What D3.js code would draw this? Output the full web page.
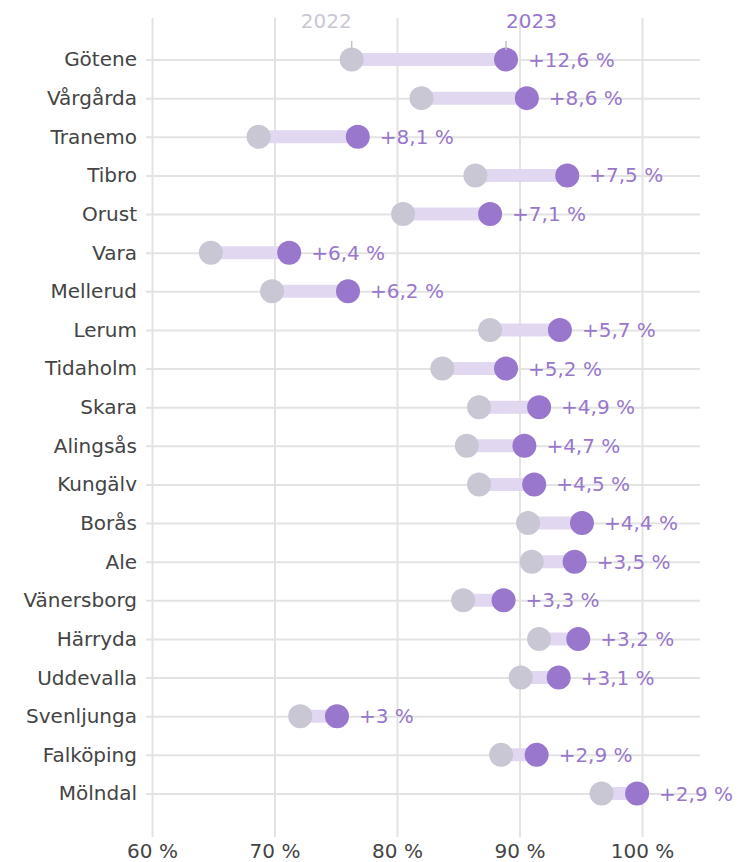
<!DOCTYPE html>
<html>
<head>
<meta charset="utf-8">
<script src="https://cdn.jsdelivr.net/npm/d3@7"></script>
<style>
	body { margin: 0; background: #fff; }
	svg text { font-family: "DejaVu Sans", sans-serif; }
</style>
</head>
<body>
<div id="chart"></div>
<script>
var municipalities = ["Götene", "Vårgårda", "Tranemo", "Tibro", "Orust", "Vara", "Mellerud", "Lerum", "Tidaholm", "Skara",
	"Alingsås", "Kungälv", "Borås", "Ale", "Vänersborg", "Härryda", "Uddevalla", "Svenljunga", "Falköping", "Mölndal"];
var values2022 = [76.3, 82.0, 68.7, 86.4, 80.5, 64.8, 69.8, 87.6, 83.7, 86.7,
	85.7, 86.7, 90.7, 91.0, 85.4, 91.6, 90.1, 72.1, 88.5, 96.7];
var values2023 = [88.9, 90.6, 76.8, 93.9, 87.6, 71.2, 76.0, 93.3, 88.9, 91.6,
	90.4, 91.2, 95.1, 94.5, 88.7, 94.8, 93.2, 75.1, 91.4, 99.6];
var xTicks = [60, 70, 80, 90, 100];
var years = ["2022", "2023"];

var width = 740;
var height = 862;
var purple = "#9877cc";
var grey = "#c9c7d3";

var svg = d3.select("#chart").append("svg")
		.attr("width", width).attr("height", height);

var x = d3.scaleLinear().domain([60, 100]).range([152, 642]);
var y = d3.scalePoint().domain(municipalities).range([59.5, 793.5]);

var gridTop = 18;
var gridBottom = 837;
var rowLeft = 146;
var rowRight = 700;

// vertical grid + bottom labels
var xAxis = svg.append("g")
		.attr("transform", "translate(0," + gridBottom + ")")
		.call(d3.axisBottom(x).tickValues(xTicks)
			.tickSize(-(gridBottom - gridTop)).tickPadding(7)
			.tickFormat(function(d) { return d + " %"; }));
xAxis.select(".domain").remove();
xAxis.selectAll("line").attr("stroke", "#e3e3e3").attr("stroke-width", 2);
xAxis.selectAll("text").attr("fill", "#444").style("font-size", "20px");

// horizontal rows + names
var yAxis = svg.append("g")
		.attr("transform", "translate(" + rowLeft + ",0)")
		.call(d3.axisLeft(y).tickSize(-(rowRight - rowLeft)).tickPadding(9));
yAxis.select(".domain").remove();
yAxis.selectAll("line").attr("stroke", "#e3e3e3").attr("stroke-width", 2);
yAxis.selectAll("text").attr("fill", "#444").style("font-size", "20px");

var rows = municipalities.map(function(name, i) {
	return {name: name, a: values2022[i], b: values2023[i]};
});

var row = svg.append("g").selectAll("g")
		.data(rows).enter().append("g")
		.attr("transform", function(d) { return "translate(0," + y(d.name) + ")"; });

row.append("line")
	.attr("x1", function(d) { return x(d.a); })
	.attr("x2", function(d) { return x(d.b); })
	.attr("stroke", "#e1d7f0")
	.attr("stroke-width", 13);

row.append("circle")
	.attr("cx", function(d) { return x(d.a); })
	.attr("r", 12)
	.attr("fill", grey);

row.append("circle")
	.attr("cx", function(d) { return x(d.b); })
	.attr("r", 12)
	.attr("fill", purple);

row.append("text")
	.attr("x", function(d) { return x(d.b) + 22; })
	.attr("dy", "0.35em")
	.attr("fill", purple)
	.style("font-size", "20px")
	.text(function(d) {
		var diff = Math.round((d.b - d.a) * 10) / 10;
		return "+" + String(diff).replace(".", ",") + " %";
	});

// year legend above the first row
var first = rows[0];
var legend = svg.append("g");
legend.selectAll("line")
	.data([first.a, first.b]).enter().append("line")
	.attr("x1", function(d) { return x(d); })
	.attr("x2", function(d) { return x(d); })
	.attr("y1", 41).attr("y2", 50)
	.attr("stroke", "#c4c3cc")
	.attr("stroke-width", 1.5);

legend.append("text")
	.attr("x", x(first.a)).attr("y", 28)
	.attr("text-anchor", "end")
	.attr("fill", grey)
	.style("font-size", "20px")
	.text(years[0]);

legend.append("text")
	.attr("x", x(first.b)).attr("y", 28)
	.attr("text-anchor", "start")
	.attr("fill", purple)
	.style("font-size", "20px")
	.text(years[1]);
</script>
</body>
</html>
